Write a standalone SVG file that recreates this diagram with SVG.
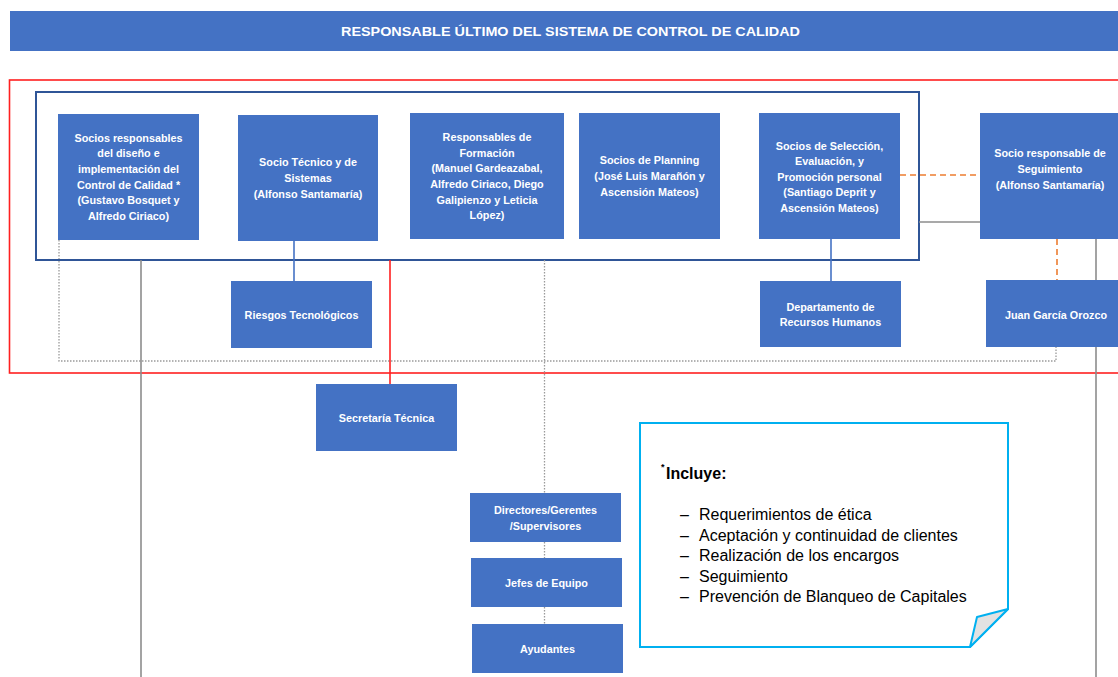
<svg xmlns="http://www.w3.org/2000/svg" width="1118" height="677" viewBox="0 0 1118 677">
<style>
.node{fill:#4472C4;}
.nt{font-family:"Liberation Sans",Arial,sans-serif;font-weight:bold;font-size:10.8px;fill:#ffffff;text-anchor:middle;}
.hdr{font-family:"Liberation Sans",Arial,sans-serif;font-weight:bold;font-size:13.5px;fill:#ffffff;text-anchor:middle;}
.gray{stroke:#8C8C8C;stroke-width:1.6;fill:none;}
.dot{stroke:#9A9A9A;stroke-width:1.3;stroke-dasharray:1.5 1.5;fill:none;}
.blue{stroke:#4472C4;stroke-width:1.6;fill:none;}
.red{stroke:#FF2020;stroke-width:1.6;fill:none;}
.orange{stroke:#ED7D31;stroke-width:1.6;stroke-dasharray:6 4;fill:none;}
.note{font-family:"Liberation Sans",Arial,sans-serif;font-size:16px;fill:#000000;}
</style>

<g id="header">
<rect x="10" y="11" width="1120" height="40" class="node"/>
<text x="570.5" y="36" class="hdr" textLength="459" lengthAdjust="spacingAndGlyphs">RESPONSABLE ÚLTIMO DEL SISTEMA DE CONTROL DE CALIDAD</text>
</g>

<g id="frames">
<rect x="9.5" y="80" width="1120" height="293" fill="none" stroke="#FF2020" stroke-width="1.6"/>
<path class="dot" d="M59,240 V361 H1056 V347"/>
<rect x="36" y="92" width="883" height="168" fill="none" stroke="#2F5597" stroke-width="2"/>
</g>

<g id="connectors">
<line class="gray" x1="141" y1="260" x2="141" y2="677"/>
<line class="red" x1="390" y1="260" x2="390" y2="384"/>
<line class="blue" x1="294" y1="241" x2="294" y2="281"/>
<line class="dot" x1="544.5" y1="260" x2="544.5" y2="493"/>
<line class="dot" x1="544.5" y1="542" x2="544.5" y2="558"/>
<line class="dot" x1="544.5" y1="607" x2="544.5" y2="624"/>
<line class="blue" x1="831" y1="239" x2="831" y2="281"/>
<line class="gray" x1="919" y1="222" x2="980" y2="222"/>
<line class="orange" x1="900" y1="175" x2="980" y2="175"/>
<line class="orange" x1="1057" y1="239" x2="1057" y2="280"/>
<line class="gray" x1="1096" y1="239" x2="1096" y2="677"/>
</g>

<g id="n-socios-diseno">
<rect x="58" y="114" width="141" height="126" class="node"/>
<text class="nt"><tspan x="128.5" y="141.5">Socios responsables</tspan><tspan x="128.5" y="157.3">del diseño e</tspan><tspan x="128.5" y="173">implementación del</tspan><tspan x="128.5" y="188.7">Control de Calidad *</tspan><tspan x="128.5" y="204.3">(Gustavo Bosquet y</tspan><tspan x="128.5" y="220">Alfredo Ciriaco)</tspan></text>
</g>

<g id="n-socio-tecnico">
<rect x="238" y="115" width="140" height="126" class="node"/>
<text class="nt"><tspan x="308" y="165.5">Socio Técnico y de</tspan><tspan x="308" y="181.5">Sistemas</tspan><tspan x="308" y="197.5">(Alfonso Santamaría)</tspan></text>
</g>

<g id="n-formacion">
<rect x="410" y="113" width="154" height="126" class="node"/>
<text class="nt"><tspan x="487" y="141">Responsables de</tspan><tspan x="487" y="156.7">Formación</tspan><tspan x="487" y="172.4">(Manuel Gardeazabal,</tspan><tspan x="487" y="188">Alfredo Ciriaco, Diego</tspan><tspan x="487" y="203.5">Galipienzo y Leticia</tspan><tspan x="487" y="219">López)</tspan></text>
</g>

<g id="n-planning">
<rect x="579" y="113" width="141" height="126" class="node"/>
<text class="nt"><tspan x="649.5" y="164">Socios de Planning</tspan><tspan x="649.5" y="180">(José Luis Marañón y</tspan><tspan x="649.5" y="196">Ascensión Mateos)</tspan></text>
</g>

<g id="n-seleccion">
<rect x="759" y="113" width="141" height="126" class="node"/>
<text class="nt"><tspan x="829.5" y="149.5">Socios de Selección,</tspan><tspan x="829.5" y="165">Evaluación, y</tspan><tspan x="829.5" y="180.5">Promoción personal</tspan><tspan x="829.5" y="196">(Santiago Deprit y</tspan><tspan x="829.5" y="211.5">Ascensión Mateos)</tspan></text>
</g>

<g id="n-seguimiento">
<rect x="980" y="113" width="150" height="126" class="node"/>
<text class="nt"><tspan x="1050" y="156.5">Socio responsable de</tspan><tspan x="1050" y="172.5">Seguimiento</tspan><tspan x="1050" y="188.5">(Alfonso Santamaría)</tspan></text>
</g>

<g id="n-riesgos">
<rect x="231" y="281" width="141" height="67" class="node"/>
<text class="nt" x="301.5" y="319">Riesgos Tecnológicos</text>
</g>

<g id="n-rrhh">
<rect x="760" y="281" width="141" height="66" class="node"/>
<text class="nt"><tspan x="830.5" y="311">Departamento de</tspan><tspan x="830.5" y="325.7">Recursos Humanos</tspan></text>
</g>

<g id="n-juan">
<rect x="986" y="280" width="140" height="67" class="node"/>
<text class="nt" x="1056" y="319">Juan García Orozco</text>
</g>

<g id="n-secretaria">
<rect x="316" y="384" width="141" height="67" class="node"/>
<text class="nt" x="386.5" y="421.5">Secretaría Técnica</text>
</g>

<g id="n-directores">
<rect x="470" y="493" width="151" height="49" class="node"/>
<text class="nt"><tspan x="545.5" y="514">Directores/Gerentes</tspan><tspan x="545.5" y="530">/Supervisores</tspan></text>
</g>

<g id="n-jefes">
<rect x="471" y="558" width="151" height="49" class="node"/>
<text class="nt" x="546.5" y="586.5">Jefes de Equipo</text>
</g>

<g id="n-ayudantes">
<rect x="472" y="624" width="151" height="49" class="node"/>
<text class="nt" x="547.5" y="652.5">Ayudantes</text>
</g>

<g id="n-nota">
<path d="M640,423 H1008 V609 L970,647 H640 Z" fill="#ffffff" stroke="#00B0F0" stroke-width="2"/>
<polygon points="1008,609 977,617 970,647" fill="#E2E2E2" stroke="#00B0F0" stroke-width="2" stroke-linejoin="round"/>
<text x="661" y="470" font-family="Liberation Sans,Arial,sans-serif" font-size="9px" font-weight="bold">*</text>
<text x="666" y="479" font-family="Liberation Sans,Arial,sans-serif" font-size="16px" font-weight="bold">Incluye:</text>
<text class="note"><tspan x="680" y="520">–</tspan><tspan x="699" y="520">Requerimientos de ética</tspan></text>
<text class="note"><tspan x="680" y="540.5">–</tspan><tspan x="699" y="540.5">Aceptación y continuidad de clientes</tspan></text>
<text class="note"><tspan x="680" y="561">–</tspan><tspan x="699" y="561">Realización de los encargos</tspan></text>
<text class="note"><tspan x="680" y="581.5">–</tspan><tspan x="699" y="581.5">Seguimiento</tspan></text>
<text class="note"><tspan x="680" y="602">–</tspan><tspan x="699" y="602">Prevención de Blanqueo de Capitales</tspan></text>
</g>
</svg>
